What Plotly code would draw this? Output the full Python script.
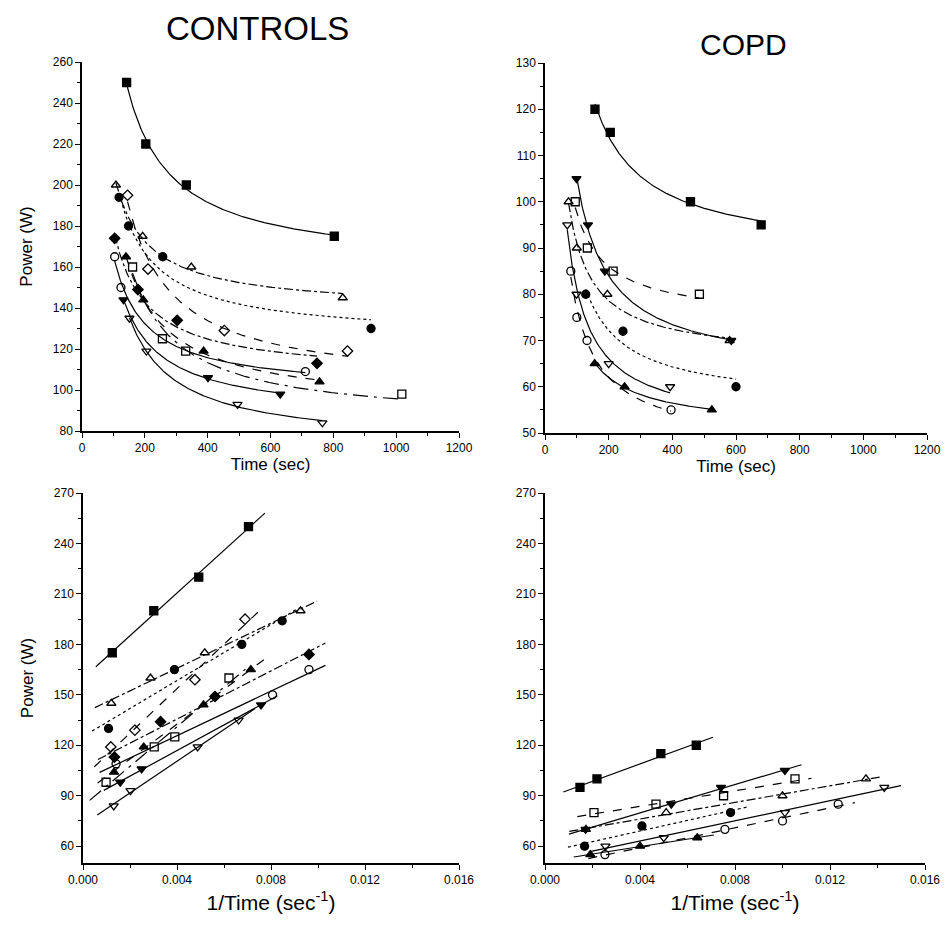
import numpy as np
import plotly.graph_objects as go

# ---------------- DATA ----------------
# CONTROLS: time to exhaustion (s) and power (W) per subject
ctrl_symbols = ["square", "triangle-up-open", "circle", "diamond-open", "diamond",
                "square-open", "circle-open", "triangle-up", "triangle-down", "triangle-down-open"]
ctrl_dash = ["solid", "dashdot", "dot", "dash", "dashdot", "longdashdot", "solid", "dash", "solid", "solid"]
ctrl_time = [
    [142, 203, 332, 803],
    [108, 193, 348, 830],
    [118, 148, 257, 920],
    [145, 210, 453, 845],
    [104, 178, 303, 748],
    [161, 256, 330, 1018],
    [104, 124, 711],
    [140, 195, 387, 756],
    [132, 401, 631],
    [151, 205, 495, 765],
]
ctrl_power = [
    [250, 220, 200, 175],
    [200, 175, 160, 145],
    [194, 180, 165, 130],
    [195, 159, 129, 119],
    [174, 149, 134, 113],
    [160, 125, 119, 98],
    [165, 150, 109],
    [165, 144, 119, 104],
    [144, 106, 98],
    [135, 119, 93, 84],
]

# COPD
copd_symbols = ["square", "triangle-down", "triangle-up-open", "square-open", "circle",
                "triangle-down-open", "circle-open", "triangle-up"]
copd_dash = ["solid", "solid", "dashdot", "dash", "dot", "solid", "dash", "solid"]
copd_time = [
    [157, 205, 457, 679],
    [99, 135, 188, 585],
    [74, 100, 196, 580],
    [95, 133, 214, 485],
    [128, 245, 600],
    [70, 99, 200, 393],
    [81, 100, 132, 396],
    [156, 250, 524],
]
copd_power = [
    [120, 115, 100, 95],
    [105, 95, 85, 70],
    [100, 90, 80, 70],
    [100, 90, 85, 80],
    [80, 72, 60],
    [95, 80, 65, 60],
    [85, 75, 70, 55],
    [65, 60, 55],
]

# page body has an 8px default margin -> figure is drawn 8px right/down
OFF = 8
W, H = 952 - 2 * OFF, 926 - 2 * OFF
FONT = "Liberation Sans, Arial, sans-serif"

fig = go.Figure()

def dom_x(a, b):
    return [(a - OFF) / W, (b - OFF) / W]

def dom_y(top, bottom):
    return [1 - (bottom - OFF) / H, 1 - (top - OFF) / H]

def px(x):
    return (x - OFF) / W

def py(y):
    return 1 - (y - OFF) / H

panels = {
    "TL": ("x", "y"),
    "TR": ("x2", "y2"),
    "BL": ("x3", "y3"),
    "BR": ("x4", "y4"),
}

def add_group(times, powers, symbols, dashes, top_axes, bot_axes):
    for t, p, sym, dsh in zip(times, powers, symbols, dashes):
        t = np.array(t, dtype=float)
        p = np.array(p, dtype=float)
        u = 1.0 / t
        slope, icpt = np.polyfit(u, p, 1)
        tc = np.linspace(t.min(), t.max(), 200)
        fig.add_trace(go.Scatter(x=tc, y=icpt + slope / tc, mode="lines",
                                 line=dict(color="black", width=1.2, dash=dsh),
                                 xaxis=top_axes[0], yaxis=top_axes[1],
                                 showlegend=False, hoverinfo="skip"))
        fig.add_trace(go.Scatter(x=t, y=p, mode="markers",
                                 marker=dict(symbol=sym, size=8, color="black",
                                             line=dict(color="black", width=1.3)),
                                 xaxis=top_axes[0], yaxis=top_axes[1], showlegend=False))
        uc = np.linspace(u.min() - 0.0007, u.max() + 0.0007, 50)
        fig.add_trace(go.Scatter(x=uc, y=icpt + slope * uc, mode="lines",
                                 line=dict(color="black", width=1.2, dash=dsh),
                                 xaxis=bot_axes[0], yaxis=bot_axes[1],
                                 showlegend=False, hoverinfo="skip"))
        fig.add_trace(go.Scatter(x=u, y=p, mode="markers",
                                 marker=dict(symbol=sym, size=8, color="black",
                                             line=dict(color="black", width=1.3)),
                                 xaxis=bot_axes[0], yaxis=bot_axes[1], showlegend=False))

add_group(ctrl_time, ctrl_power, ctrl_symbols, ctrl_dash, panels["TL"], panels["BL"])
add_group(copd_time, copd_power, copd_symbols, copd_dash, panels["TR"], panels["BR"])

tickfont = dict(family=FONT, size=12, color="black")
titlefont = dict(family=FONT, size=17, color="black")

def minor(dt):
    return dict(dtick=dt, ticks="outside", ticklen=3, tickwidth=1, tickcolor="black")

def axis_common(**kw):
    d = dict(showline=True, linecolor="black", linewidth=1.5, mirror=False,
             ticks="outside", ticklen=5, tickwidth=1.3, tickcolor="black",
             showgrid=False, zeroline=False, tickfont=tickfont, automargin=False)
    d.update(kw)
    return d

time_x = dict(range=[0, 1200], tick0=0, dtick=200, minor=minor(100),
              title=dict(text="Time (sec)", font=titlefont, standoff=4))
inv_x = dict(range=[0, 0.016], tick0=0, dtick=0.004, minor=minor(0.002), tickformat=".3f",
             title=dict(text="1/Time (sec<sup>-1</sup>)", font=dict(family=FONT, size=21, color="black"), standoff=9))

fig.update_layout(
    width=W, height=H,
    margin=dict(l=0, r=0, t=0, b=0),
    paper_bgcolor="white", plot_bgcolor="white",
    xaxis=axis_common(domain=dom_x(82, 459), anchor="y", **time_x),
    yaxis=axis_common(domain=dom_y(62, 431), anchor="x", range=[80, 260], tick0=80, dtick=20,
                      minor=minor(10),
                      title=dict(text="Power (W)", font=titlefont, standoff=16)),
    xaxis2=axis_common(domain=dom_x(545, 927), anchor="y2", **time_x),
    yaxis2=axis_common(domain=dom_y(63, 433), anchor="x2", range=[50, 130], tick0=50, dtick=10,
                       minor=minor(5)),
    xaxis3=axis_common(domain=dom_x(83, 459), anchor="y3", **inv_x),
    yaxis3=axis_common(domain=dom_y(493, 863), anchor="x3", range=[50, 270], tick0=60, dtick=30,
                       minor=minor(15),
                       title=dict(text="Power (W)", font=titlefont, standoff=16)),
    xaxis4=axis_common(domain=dom_x(545, 925), anchor="y4", **inv_x),
    yaxis4=axis_common(domain=dom_y(493, 863), anchor="x4", range=[50, 270], tick0=60, dtick=30,
                       minor=minor(15)),
    annotations=[
        dict(text="CONTROLS", x=px(257), y=py(28), xref="paper", yref="paper",
             showarrow=False, font=dict(family=FONT, size=33, color="black"), xanchor="center", yanchor="middle"),
        dict(text="COPD", x=px(743), y=py(45), xref="paper", yref="paper",
             showarrow=False, font=dict(family=FONT, size=30, color="black"), xanchor="center", yanchor="middle"),
    ],
)

fig.write_html("out.html")
